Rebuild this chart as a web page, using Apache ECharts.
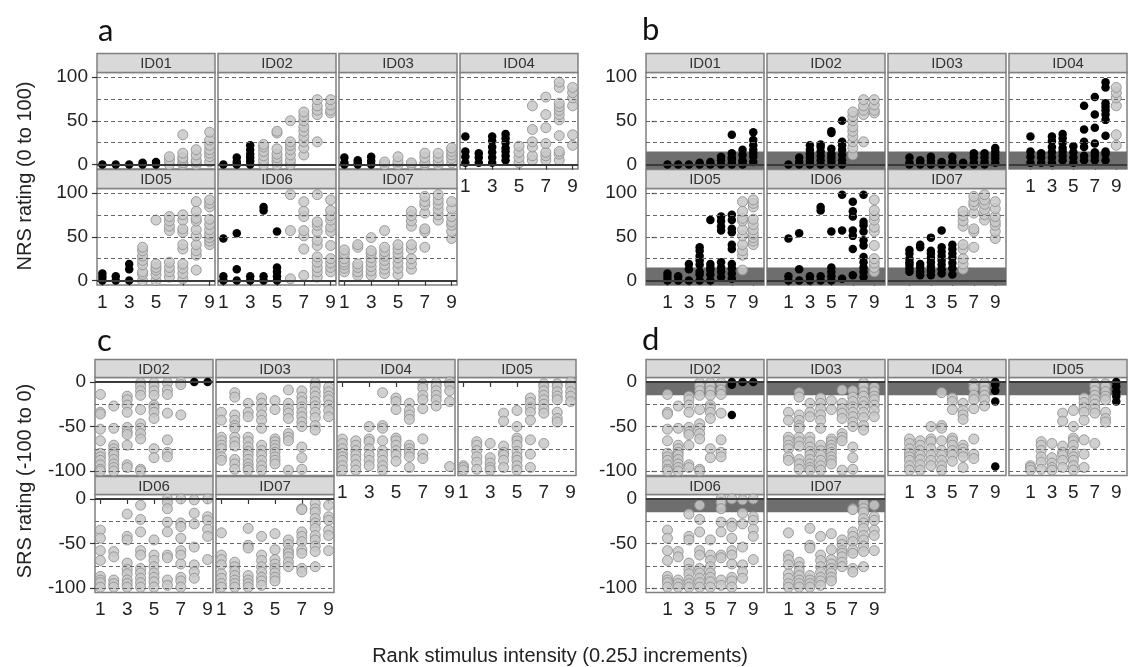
<!DOCTYPE html>
<html>
<head>
<meta charset="utf-8">
<script src="https://cdn.jsdelivr.net/npm/echarts@6/dist/echarts.min.js"></script>
<style>
  html, body { margin: 0; padding: 0; background: #fff; }
  #chart { width: 1128px; height: 667px; }
</style>
</head>
<body>
<div id="chart"></div>
<script>
const xTicks = [1, 3, 5, 7, 9];
const nrsTicks = [0, 50, 100];
const nrsDashed = [25, 50, 75, 100];
const srsTicks = [-100, -50, 0];
const srsDashed = [-25, -50, -75, -100];

// NRS ratings, one list per stimulus rank (1..9)
const nrsID01 = [[0], [0], [0], [0, 2], [0, 3], [0, 5, 9], [0, 2, 6, 8, 13, 34], [0, 3, 5, 11, 17], [3, 9, 13, 17, 22, 28, 37]];
const nrsID02 = [[0], [0, 3, 8], [0, 4, 8, 12, 17, 22], [0, 5, 10, 15, 20, 23], [0, 4, 8, 12, 18, 36, 38], [0, 5, 11, 17, 22, 26, 50], [11, 19, 26, 32, 38, 43, 50, 55, 60], [26, 57, 62, 67, 74], [59, 62, 68, 74]];
const nrsID03 = [[0, 2, 8], [0, 2, 5], [0, 4, 9], [0, 3], [0, 3, 9], [0, 2], [0, 2, 8, 13], [0, 3, 8, 13], [2, 7, 11, 15, 19]];
const nrsID04 = [[2, 9, 15, 32], [2, 8, 13], [2, 8, 14, 20, 27, 32], [5, 10, 15, 19, 25, 30, 35], [2, 8, 14, 21], [5, 10, 20, 26, 40, 67], [5, 10, 14, 24, 42, 57, 77], [5, 12, 15, 33, 51, 57, 62, 66, 70, 88, 94], [22, 34, 67, 76, 82, 88]];
const nrsID05 = [[0, 4, 8], [0, 5], [0, 13, 19], [0, 7, 10, 18, 23, 28, 34, 38], [0, 7, 12, 15, 19, 69], [4, 10, 15, 21, 57, 62, 68, 73], [2, 8, 14, 19, 36, 41, 55, 59, 69, 75], [12, 29, 34, 41, 51, 58, 68, 71, 79, 90], [41, 45, 49, 53, 58, 64, 70, 84, 88, 92]];
const nrsID06 = [[0, 5, 48], [0, 13, 54], [0, 5], [0, 5, 80, 84], [0, 5, 10, 15, 56], [2, 57, 98], [6, 36, 51, 57, 73, 79, 90], [4, 10, 15, 21, 27, 40, 46, 56, 63, 67, 98], [10, 15, 20, 25, 40, 56, 61, 69, 74, 80, 92]];
const nrsID07 = [[10, 14, 18, 21, 25, 31, 35], [6, 10, 15, 19, 38, 41], [6, 11, 16, 21, 26, 31, 34, 49], [8, 13, 18, 23, 28, 33, 38, 57], [7, 14, 20, 26, 31, 36, 41], [13, 19, 25, 36, 41, 62, 68, 74, 79], [38, 56, 59, 77, 86, 90, 96], [69, 75, 81, 87, 92, 98], [48, 56, 63, 67, 73, 82, 90]];

// SRS ratings, one list per stimulus rank (1..9)
const srsID02 = [[-14, -34, -36, -53, -66, -80, -84, -88, -93, -98, -100], [-27, -52, -71, -75, -79, -82, -87, -92, -96, -100], [-16, -20, -26, -34, -51, -56, -59, -71, -93, -96], [-1, -5, -10, -15, -31, -47, -52, -58, -64, -98, -100], [-1, -5, -10, -15, -26, -29, -34, -41, -75, -85], [-1, -9, -14, -35, -65, -79, -84], [0, -3, -37], [0], [0]];
const srsID03 = [[-34, -43, -62, -66, -71, -75, -84, -88], [-12, -17, -37, -43, -49, -52, -62, -67, -72, -87, -92, -98], [-24, -34, -39, -62, -67, -73, -78, -82, -87, -92, -96, -99], [-18, -24, -30, -37, -43, -52, -71, -77, -82, -88, -94, -99], [-21, -31, -64, -67, -71, -75, -79, -84, -88, -92], [-9, -24, -30, -35, -41, -58, -62, -66, -99], [-10, -17, -22, -28, -34, -39, -45, -50, -73, -85, -98], [-1, -5, -11, -16, -22, -27, -34, -40, -49, -54], [-6, -11, -16, -20, -26, -32, -39]];
const srsID04 = [[-64, -69, -75, -80, -84, -88, -94, -99], [-66, -71, -77, -82, -87, -93, -99], [-50, -64, -67, -75, -82, -88, -94], [-12, -49, -52, -66, -77, -82, -88, -94, -99], [-18, -22, -31, -63, -66, -71, -77, -82, -89], [-24, -32, -37, -42, -71, -75, -79, -84, -96], [-2, -7, -15, -20, -30, -64, -81, -86], [-1, -5, -10, -15, -20, -27], [0, -3, -10, -22, -95]];
const srsID05 = [[-94, -96, -99], [-67, -71, -77, -84, -90, -98], [-69, -85, -91, -96, -99], [-35, -44, -72, -79, -82, -88, -96], [-32, -50, -63, -66, -71, -78, -84, -88, -94, -99], [-18, -23, -29, -34, -43, -65, -81, -96], [-2, -5, -10, -15, -20, -25, -30, -35, -69], [-2, -5, -11, -16, -20, -34, -41, -45], [0, -5, -11, -16, -22]];
const srsID06 = [[-35, -44, -58, -69, -87, -91, -94, -99], [-59, -65, -91, -95, -99], [-17, -42, -46, -72, -79, -84, -91, -95, -99], [-7, -23, -37, -58, -63, -78, -83, -89, -94, -99], [-46, -63, -69, -76, -83, -88, -93, -99], [0, -4, -11, -26, -37, -63, -66, -91, -97], [0, -27, -31, -44, -58, -63, -73, -88, -92, -99], [-1, -16, -28, -54, -74, -82, -89], [0, -20, -24, -34, -42, -68]];
const srsID07 = [[-38, -63, -68, -74, -84, -89, -95, -99], [-71, -76, -81, -86, -91, -95, -99], [-33, -52, -55, -86, -91, -95, -99], [-42, -63, -69, -76, -82, -88, -92, -97], [-39, -57, -68, -73, -78, -83, -88, -92], [-46, -51, -58, -61, -65, -71, -76], [-11, -12, -37, -42, -48, -57, -61, -78, -82], [-5, -11, -15, -22, -27, -33, -41, -46, -53, -59, -76], [-7, -20, -24, -35, -41, -58]];

const nrsIds = ['ID01', 'ID02', 'ID03', 'ID04', 'ID05', 'ID06', 'ID07'];
const srsIds = ['ID02', 'ID03', 'ID04', 'ID05', 'ID06', 'ID07'];
const nrsData = [nrsID01, nrsID02, nrsID03, nrsID04, nrsID05, nrsID06, nrsID07];
const srsData = [srsID02, srsID03, srsID04, srsID05, srsID06, srsID07];

// ranks drawn black: NRS up to this rank, SRS from this rank on
const nrsBlackUpToA = [5, 3, 3, 4, 3, 5, 0];
const nrsBlackUpToB = [9, 6, 9, 8, 7, 8, 5];
const srsBlackFromC = [8, 10, 10, 10, 10, 10];
const srsBlackFromD = [7, 10, 9, 9, 10, 10];

const FONT = 'Liberation Sans';
const W = 118;
const grids = [], xAxes = [], yAxes = [], series = [], graphics = [];

const addFacet = (f) => {
  const i = grids.length;
  grids.push({
    left: f.left, top: f.top, width: W, height: f.h,
    show: true, borderColor: '#808080', borderWidth: 1.5
  });
  xAxes.push({
    gridIndex: i, type: 'value', min: f.xMin, max: f.xMax,
    splitLine: { show: false }, axisLine: { show: false },
    axisTick: { show: f.showX, customValues: xTicks, length: 5, lineStyle: { color: '#333', width: 1.2 } },
    axisLabel: { show: f.showX, customValues: xTicks, margin: 8, fontSize: 19, color: '#222', fontFamily: FONT }
  });
  yAxes.push({
    gridIndex: i, type: 'value', min: f.yMin, max: f.yMax,
    splitLine: { show: false }, axisLine: { show: false },
    axisTick: { show: f.showY, customValues: f.ticks, length: 5, lineStyle: { color: '#333', width: 1.2 } },
    axisLabel: { show: f.showY, customValues: f.ticks, margin: 9, fontSize: 19, color: '#222', fontFamily: FONT }
  });
  const pts = [];
  f.vals.forEach((col, r) => col.forEach(v => pts.push([r + 1, v])));
  const lines = f.dashed.map(v => ({ yAxis: v }));
  lines.push({ yAxis: 0, lineStyle: { type: 'solid', color: '#3a3a3a', width: 2 } });
  series.push({
    type: 'scatter', xAxisIndex: i, yAxisIndex: i, data: pts, symbolSize: 0, silent: true, z: 1,
    markArea: f.band ? {
      silent: true,
      itemStyle: { color: '#6e6e6e' },
      data: [[{ yAxis: f.band[0] }, { yAxis: f.band[1] }]]
    } : undefined,
    markLine: {
      silent: true, symbol: 'none', label: { show: false },
      lineStyle: { type: [4, 3], color: '#666', width: 1 },
      data: lines
    }
  });
  series.push({
    type: 'scatter', xAxisIndex: i, yAxisIndex: i, z: 2, symbolSize: 10,
    data: pts.filter(p => !f.isBlack(p[0])),
    itemStyle: { color: '#c8c8c8', borderColor: '#8e8e8e', borderWidth: 1, opacity: 0.85 }
  });
  series.push({
    type: 'scatter', xAxisIndex: i, yAxisIndex: i, z: 3, symbolSize: 8.5,
    data: pts.filter(p => f.isBlack(p[0])),
    itemStyle: { color: '#000', opacity: 1 }
  });
  graphics.push({
    type: 'rect', shape: { x: f.left, y: f.strip, width: W, height: f.top - f.strip },
    style: { fill: '#d9d9d9', stroke: '#808080', lineWidth: 1.5 }
  });
  graphics.push({
    type: 'text', x: f.left + W / 2, y: f.strip + (f.top - f.strip) / 2 + 1,
    style: { text: f.id, fontSize: 15, fill: '#333', fontFamily: FONT, align: 'center', verticalAlign: 'middle' }
  });
};

const colsA = [97, 218, 339, 460];
const colsB = [646, 767, 888, 1009];
const colsC = [95, 216, 337, 458];
const rowsNrs = [{ strip: 53.5, top: 72.5, h: 96.5 }, { strip: 169.5, top: 188.5, h: 96.5 }];
const rowsSrs = [{ strip: 359.5, top: 377.5, h: 98 }, { strip: 476.5, top: 494.5, h: 98 }];

const panels = [
  { ids: nrsIds, data: nrsData, cols: colsA, rows: rowsNrs, xr: [0.6, 9.4], yr: [-5, 105], ticks: nrsTicks, dashed: nrsDashed, band: null,
    black: (k, x) => x <= nrsBlackUpToA[k] },
  { ids: nrsIds, data: nrsData, cols: colsB, rows: rowsNrs, xr: [-1, 10], yr: [-5, 105], ticks: nrsTicks, dashed: nrsDashed, band: [-5, 15],
    black: (k, x) => x <= nrsBlackUpToB[k] },
  { ids: srsIds, data: srsData, cols: colsC, rows: rowsSrs, xr: [0.6, 9.4], yr: [-105, 5], ticks: srsTicks, dashed: srsDashed, band: null,
    black: (k, x) => x >= srsBlackFromC[k] },
  { ids: srsIds, data: srsData, cols: colsB, rows: rowsSrs, xr: [-1, 10], yr: [-105, 5], ticks: srsTicks, dashed: srsDashed, band: [-15, 0],
    black: (k, x) => x >= srsBlackFromD[k] }
];

panels.forEach(p => {
  p.ids.forEach((id, k) => {
    const row = p.rows[Math.floor(k / 4)];
    addFacet({
      id, vals: p.data[k], left: p.cols[k % 4], strip: row.strip, top: row.top, h: row.h,
      xMin: p.xr[0], xMax: p.xr[1], yMin: p.yr[0], yMax: p.yr[1],
      ticks: p.ticks, dashed: p.dashed, band: p.band,
      showX: k + 4 >= p.ids.length, showY: k % 4 === 0,
      isBlack: x => p.black(k, x)
    });
  });
});

const letter = (t, x, y) => ({
  type: 'text', x, y,
  style: { text: t, fontSize: 31, fill: '#111', fontFamily: 'Lato', align: 'left', verticalAlign: 'middle' }
});
graphics.push(letter('a', 98, 31), letter('b', 642, 30), letter('c', 97, 341), letter('d', 642, 340));
graphics.push({
  type: 'text', x: 25, y: 176, rotation: Math.PI / 2,
  style: { text: 'NRS rating (0 to 100)', fontSize: 20, fill: '#222', fontFamily: FONT, align: 'center', verticalAlign: 'middle' }
});
graphics.push({
  type: 'text', x: 25, y: 481, rotation: Math.PI / 2,
  style: { text: 'SRS rating (-100 to 0)', fontSize: 20, fill: '#222', fontFamily: FONT, align: 'center', verticalAlign: 'middle' }
});
graphics.push({
  type: 'text', x: 560, y: 656,
  style: { text: 'Rank stimulus intensity (0.25J increments)', fontSize: 20, fill: '#222', fontFamily: FONT, align: 'center', verticalAlign: 'middle' }
});

const chart = echarts.init(document.getElementById('chart'));
chart.setOption({
  animation: false,
  backgroundColor: '#fff',
  grid: grids,
  xAxis: xAxes,
  yAxis: yAxes,
  series: series,
  graphic: graphics
});
</script>
</body>
</html>
